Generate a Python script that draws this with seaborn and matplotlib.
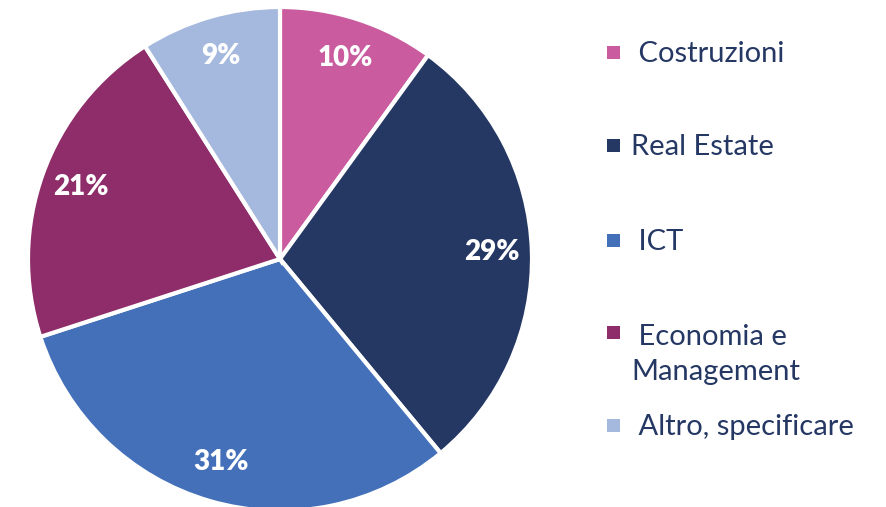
import seaborn as sns
import matplotlib.pyplot as plt
from matplotlib.patches import Rectangle

# data
categories = ["Costruzioni", "Real Estate", "ICT", "Economia e\nManagement", "Altro, specificare"]
legend_labels = [" Costruzioni", "Real Estate", " ICT", " Economia e\nManagement", " Altro, specificare"]
values = [10, 29, 31, 21, 9]
colors = sns.color_palette(["#C95B9E", "#253864", "#4470BA", "#8E2D69", "#A5B8DE"])

sns.set_theme(style="white")
plt.rcParams["font.family"] = ["Lato", "DejaVu Sans"]

fig = plt.figure(figsize=(8.87, 5.07), dpi=100)
ax = fig.add_axes([28 / 887, 1 - 511 / 507, 504 / 887, 504 / 507])

wedges, texts, autotexts = ax.pie(
    values, colors=colors, startangle=90, counterclock=False,
    autopct="%d%%", pctdistance=0.84,
    wedgeprops=dict(edgecolor="white", linewidth=3),
    textprops=dict(color="white", fontsize=20, fontweight="heavy"),
)
ax.set_xlim(-1, 1)
ax.set_ylim(-1, 1)
ax.set_aspect("equal")
ax.axis("off")

# legend, drawn by hand to keep the uneven spacing
text_col = "#253864"
ys = [52, 145, 240, 332, 425]
line_gap = 38
for lab, col, y in zip(legend_labels, colors, ys):
    fy = 1 - y / 507
    fig.patches.append(Rectangle((607 / 887, fy - 7 / 507), 13 / 887, 13 / 507,
                                 transform=fig.transFigure, facecolor=col, edgecolor="none"))
    # baseline of multi-line text sits on the last line
    extra = line_gap * lab.count("\n")
    fig.text(631 / 887, 1 - (y + 10 + extra) / 507, lab, color=text_col, fontsize=21,
             va="baseline", linespacing=1.43, transform=fig.transFigure)

fig.savefig("out.png", dpi=100)
